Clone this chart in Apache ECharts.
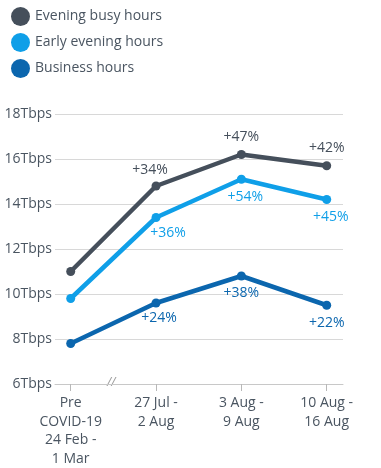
<!DOCTYPE html>
<html>
<head>
<meta charset="utf-8">
<script src="https://cdn.jsdelivr.net/npm/echarts@6/dist/echarts.min.js"></script>
<style>
html,body{margin:0;padding:0;background:#fff;}
#chart{width:381px;height:468px;}
</style>
</head>
<body>
<div id="chart"></div>
<script>
var categories = ['Pre\nCOVID-19\n24 Feb -\n1 Mar', '27 Jul -\n2 Aug', '3 Aug -\n9 Aug', '10 Aug -\n16 Aug'];
var seriesNames = ['Evening busy hours', 'Early evening hours', 'Business hours'];
var eveningBusy = [11.0, 14.8, 16.2, 15.7];
var earlyEvening = [9.8, 13.4, 15.1, 14.2];
var business = [7.8, 9.6, 10.8, 9.5];
var pctEveningBusy = ['', '+34%', '+47%', '+42%'];
var pctEarlyEvening = ['', '+36%', '+54%', '+45%'];
var pctBusiness = ['', '+24%', '+38%', '+22%'];
var yTicks = [6, 8, 10, 12, 14, 16, 18];

var colors = ['#454f5b', '#0f9fe8', '#0b66ae'];
var labelPos = ['top', 'bottom', 'bottom'];
var labelShift = [
  [[0,0],[-6,2],[0,0],[0,0]],
  [[0,0],[12,-2],[4,0],[4,0]],
  [[0,0],[3,-2],[0,0],[0,0]]
];
var textColor = '#4a5561';
var font = '"Open Sans", "Noto Sans", sans-serif';

function makeSeries(idx, values, pcts) {
  return {
    name: seriesNames[idx],
    type: 'line',
    symbol: 'circle',
    symbolSize: 9,
    lineStyle: {width: 4.5, color: colors[idx]},
    itemStyle: {color: colors[idx]},
    data: values.map(function (v, i) {
      return {
        value: [i, v],
        label: {
          show: pcts[i] !== '',
          formatter: pcts[i],
          position: labelPos[idx],
          distance: 6,
          offset: labelShift[idx][i],
          color: colors[idx],
          fontSize: 14,
          fontFamily: font
        }
      };
    })
  };
}

var chart = echarts.init(document.getElementById('chart'), null, {renderer: 'canvas'});
chart.setOption({
  animation: false,
  color: colors,
  legend: {
    orient: 'vertical',
    left: 6,
    top: 2,
    icon: 'circle',
    itemWidth: 19,
    itemHeight: 19,
    itemGap: 7,
    data: seriesNames,
    textStyle: {color: textColor, fontSize: 14, fontFamily: font}
  },
  grid: {left: 55, right: 38, top: 114, bottom: 84, containLabel: false},
  xAxis: {
    type: 'value',
    min: -0.184,
    max: 3.191,
    splitLine: {show: false},
    axisLine: {show: true, lineStyle: {color: '#c8c8c8', width: 1}},
    axisTick: {show: true, customValues: [0,1,2,3], length: 7, lineStyle: {color: '#b8b8b8'}},
    axisLabel: {
      customValues: [0,1,2,3],
      formatter: function (v) { return categories[Math.round(v)]; },
      color: textColor,
      fontSize: 14,
      lineHeight: 18.5,
      margin: 10,
      fontFamily: font
    }
  },
  yAxis: {
    type: 'value',
    min: yTicks[0],
    max: yTicks[yTicks.length - 1],
    interval: 2,
    axisLine: {show: false},
    axisTick: {show: false},
    splitLine: {lineStyle: {color: '#d8d8d8', width: 1}},
    axisLabel: {
      formatter: function (v) { return v + 'Tbps'; },
      color: textColor,
      fontSize: 14,
      margin: 3,
      fontFamily: font
    }
  },
  graphic: [{
    type: 'text',
    left: 107,
    top: 377,
    style: {text: '//', fill: '#9a9a9a', font: 'italic 12px ' + font}
  }],
  series: [
    makeSeries(0, eveningBusy, pctEveningBusy),
    makeSeries(1, earlyEvening, pctEarlyEvening),
    makeSeries(2, business, pctBusiness)
  ]
});
</script>
</body>
</html>
